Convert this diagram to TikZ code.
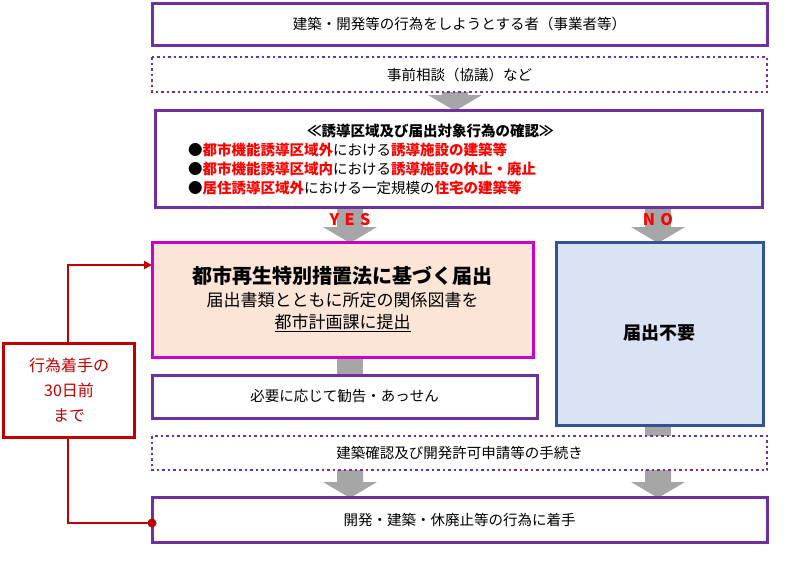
\documentclass[tikz,border=0pt]{standalone}
\usepackage{fontspec}
\setmainfont{Noto Sans CJK JP}
\usetikzlibrary{arrows.meta}
\definecolor{pur}{HTML}{7030A0}
\definecolor{mag}{HTML}{CC00CC}
\definecolor{pinkf}{HTML}{FBE5D6}
\definecolor{blu}{HTML}{2F5597}
\definecolor{bluf}{HTML}{DAE3F3}
\definecolor{redd}{HTML}{C00000}
\definecolor{gar}{HTML}{A6A6A6}
\tikzset{
 pbox/.style={draw=pur,line width=3pt,fill=white},
 dbox/.style={draw=pur,line width=2.6pt,dash pattern=on 2.5pt off 3pt,fill=white},
 txt/.style={font=\fontsize{14.5}{17}\selectfont,align=center},
}
\newcommand{\garr}[3]{% x, ytop, ybot
 \fill[gar] (#1-13,#2) -- (#1+13,#2) -- (#1+13,#3-16) -- (#1+27,#3-16) -- (#1,#3) -- (#1-27,#3-16) -- (#1-13,#3-16) -- cycle;}
\newcommand{\gbar}[3]{\fill[gar] (#1-13,#2) rectangle (#1+13,#3);}
\newcommand{\rd}[1]{{\color{red}\bfseries #1}}
\begin{document}
\begin{tikzpicture}[x=1pt,y=-1pt]
\useasboundingbox (0,0) rectangle (794,570);
\garr{455}{90}{111}
\garr{350}{205}{243}
\garr{658}{205}{243}
\gbar{350}{355}{377}
\gbar{658}{423}{438}
\garr{350}{468}{498}
\garr{658}{468}{498}
\draw[pbox] (152,3) rectangle (767,45);
\node[txt] (a) at (459.5,24) {建築・開発等の行為をしようとする者（事業者等）};
\draw[dbox] (152,57) rectangle (767,92);
\node[txt] (b) at (459.5,74.5) {事前相談（協議）など};
\draw[pbox] (155,110) rectangle (762,207);
\node[font=\fontsize{14.5}{19}\selectfont,anchor=west,align=left,inner sep=0pt] (c) at (188,159) {%
\hspace*{8.2em}{\bfseries ≪誘導区域及び届出対象行為の確認≫}\\
●\rd{都市機能誘導区域外}における\rd{誘導施設の建築等}\\
●\rd{都市機能誘導区域内}における\rd{誘導施設の休止・廃止}\\
●\rd{居住誘導区域外}における一定規模の\rd{住宅の建築等}};
\node[font=\fontsize{16}{18}\selectfont\bfseries,text=red] (yes) at (350,220) {Y\,\,E\,\,S};
\node[font=\fontsize{16}{18}\selectfont\bfseries,text=red] (no) at (658,220) {N\,\,O};
\draw[draw=mag,line width=3pt,fill=pinkf] (152,242) rectangle (533,357);
\node[align=center] (d) at (342.5,299) {{\fontsize{20}{24}\selectfont\bfseries 都市再生特別措置法に基づく届出}\\[6pt]
{\fontsize{17}{22}\selectfont 届出書類とともに所定の関係図書を}\\[5pt]
{\fontsize{17}{22}\selectfont \underline{都市計画課に提出}}};
\draw[draw=blu,line width=3pt,fill=bluf] (556,242) rectangle (763,425);
\node[font=\fontsize{18}{20}\selectfont\bfseries] (e) at (659.5,333) {届出不要};
\draw[pbox] (152,375) rectangle (537,418);
\node[txt] (f) at (344.5,396.5) {必要に応じて勧告・あっせん};
\draw[dbox] (152,436) rectangle (767,470);
\node[txt] (g) at (459.5,453) {建築確認及び開発許可申請等の手続き};
\draw[pbox] (152,497) rectangle (767,542);
\node[txt] (h) at (459.5,519.5) {開発・建築・休廃止等の行為に着手};
\node[draw=redd,line width=3pt,minimum width=131pt,minimum height=94pt,text=redd,font=\fontsize{16}{25}\selectfont,align=center,inner sep=0pt] (r) at (69,390) {行為着手の\\30日前\\まで};
\coordinate (rt) at (68,265);
\coordinate (rb) at (68,523);
\draw[redd,line width=1.8pt,-{Triangle[length=8pt,width=8pt]}] (r.north -| rt) -- (rt) -- (152,265);
\draw[redd,line width=1.8pt] (r.south -| rb) -- (rb) -- (152,523);
\fill[redd] (152,523) circle (4.5pt);
\end{tikzpicture}
\end{document}
